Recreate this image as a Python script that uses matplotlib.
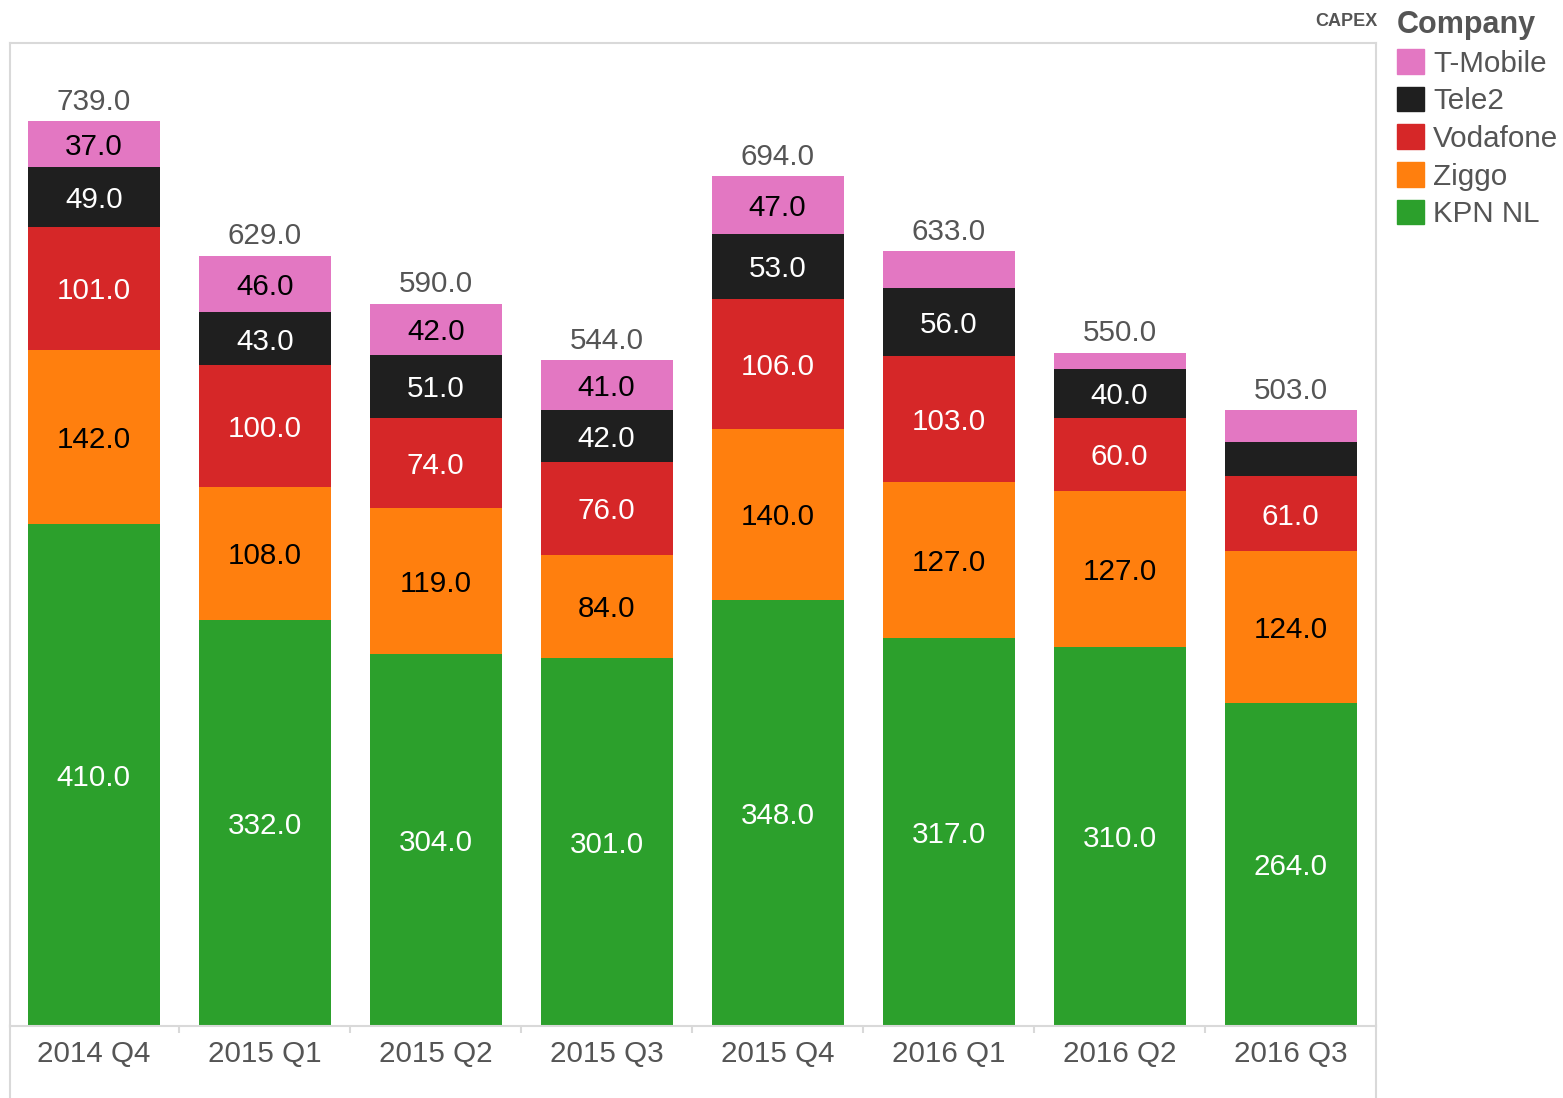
import matplotlib
matplotlib.use("Agg")
import matplotlib.pyplot as plt
from matplotlib.patches import Patch
from matplotlib.lines import Line2D
import numpy as np

plt.rcParams['font.family'] = ['Liberation Sans', 'DejaVu Sans']

quarters = ['2014 Q4', '2015 Q1', '2015 Q2', '2015 Q3', '2015 Q4', '2016 Q1', '2016 Q2', '2016 Q3']
kpn = [410, 332, 304, 301, 348, 317, 310, 264]
ziggo = [142, 108, 119, 84, 140, 127, 127, 124]
vodafone = [101, 100, 74, 76, 106, 103, 60, 61]
tele2 = [49, 43, 51, 42, 53, 56, 40, 28]
tmobile = [37, 46, 42, 41, 47, 30, 13, 26]

series = [
    ('KPN NL', kpn, '#2ca02c', 'white'),
    ('Ziggo', ziggo, '#ff7f0e', 'black'),
    ('Vodafone', vodafone, '#d62728', 'white'),
    ('Tele2', tele2, '#1f1f1f', 'white'),
    ('T-Mobile', tmobile, '#e377c2', 'black'),
]

W, H = 1563, 1098
fs = 21.3
fig = plt.figure(figsize=(W / 100, H / 100), dpi=100)
ax = fig.add_axes([10 / W, (H - 1026) / H, 1366 / W, 983 / H])

x = np.arange(len(quarters))
bottom = np.zeros(len(quarters))
for name, vals, col, tcol in series:
    vals = np.array(vals, dtype=float)
    ax.bar(x, vals, 0.772, bottom=bottom, color=col, label=name)
    for xi, b, v in zip(x, bottom, vals):
        if v > 30:
            ax.text(xi, b + v / 2, '%.1f' % v, ha='center', va='center_baseline',
                    fontsize=fs, color=tcol)
    bottom += vals

for xi, t in zip(x, bottom):
    ax.annotate('%.1f' % t, (xi, t), xytext=(0, 4), textcoords='offset points',
                ha='center', va='bottom', fontsize=fs, color='#555555')

ax.set_xlim(-0.49, 7.5)
ax.set_ylim(0, 803)
ax.set_yticks([])
ax.set_xticks(x)
ax.set_xticklabels(quarters, fontsize=fs, color='#555555')
ax.tick_params(axis='x', which='major', length=0, pad=10)
ax.set_xticks(x[:-1] + 0.5, minor=True)
ax.tick_params(axis='x', which='minor', length=5, width=1.5, color='#d9d9d9', direction='out')
for s in ax.spines.values():
    s.set_color('#d9d9d9')
    s.set_linewidth(1.5)

# frame lines continuing below the axis
for px in (10, 1376):
    fig.add_artist(Line2D([px / W, px / W], [0, (H - 1026) / H], color='#d9d9d9', lw=1.5))

fig.text(1377 / W, 1 - 21 / H, 'CAPEX', fontsize=13, fontweight='bold', color='#555555',
         ha='right', va='center')

handles = [Patch(color=c, label=n) for n, v, c, t in series[::-1]]
leg = fig.legend(handles=handles, loc='upper left', bbox_to_anchor=(1397 / W, 1 - 10 / H),
                 frameon=False, fontsize=fs, title='Company', alignment='left',
                 handlelength=0.9, handleheight=0.9, handletextpad=0.32,
                 labelspacing=0.31, borderpad=0, borderaxespad=0)
leg.get_title().set_fontweight('bold')
leg.get_title().set_fontsize(22)
leg.get_title().set_color('#555555')
for t in leg.get_texts():
    t.set_color('#555555')

fig.savefig('out.png', dpi=100)
